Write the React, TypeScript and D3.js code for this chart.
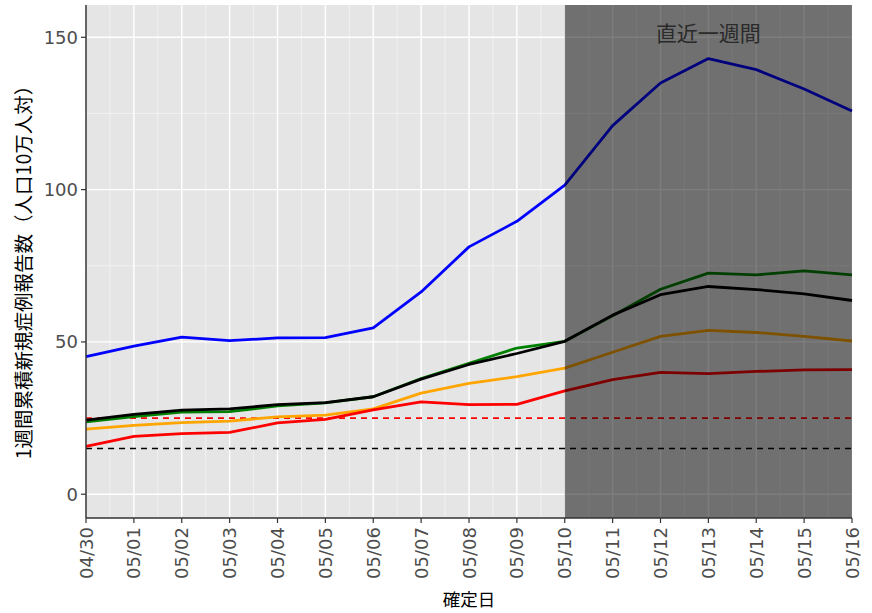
import React from "react";
import * as d3 from "d3";

// Reporting dates (x axis)
const dates = [
  "04/30", "05/01", "05/02", "05/03", "05/04", "05/05", "05/06", "05/07", "05/08",
  "05/09", "05/10", "05/11", "05/12", "05/13", "05/14", "05/15", "05/16",
];

// Weekly cumulative new cases per 100k population, one array per region
const blueSeries = [45.2, 48.6, 51.6, 50.4, 51.3, 51.4, 54.6, 66.4, 81.2, 89.6, 101.5, 121.0, 135.0, 143.0, 139.4, 133.0, 125.8];
const greenSeries = [23.8, 25.5, 27.0, 27.1, 29.0, 30.0, 32.0, 38.0, 43.0, 48.0, 50.2, 58.6, 67.3, 72.6, 72.0, 73.3, 72.0];
const orangeSeries = [21.4, 22.6, 23.5, 24.0, 25.4, 26.0, 28.0, 33.2, 36.4, 38.6, 41.4, 46.6, 51.8, 53.8, 53.1, 51.8, 50.3];
const redSeries = [15.7, 19.0, 19.9, 20.3, 23.4, 24.6, 27.7, 30.3, 29.4, 29.5, 33.9, 37.6, 40.0, 39.6, 40.3, 40.8, 40.9];
const blackSeries = [24.3, 26.2, 27.6, 28.0, 29.4, 30.1, 32.0, 37.8, 42.6, 46.2, 50.2, 58.8, 65.5, 68.2, 67.2, 65.8, 63.6];

const seriesList = [
  { name: "blue", color: "#0000ff", values: blueSeries },
  { name: "orange", color: "#ffa500", values: orangeSeries },
  { name: "red", color: "#ff0000", values: redSeries },
  { name: "green", color: "#008000", values: greenSeries },
  { name: "black", color: "#000000", values: blackSeries },
];

// Reference thresholds (dashed)
const thresholds = [
  { value: 25, color: "#ff0000" },
  { value: 15, color: "#000000" },
];

const yTicks = [0, 50, 100, 150];
const yMinorTicks = [25, 75, 125];
const recentStart = "05/10";
const recentLabel = "直近一週間";
const yTitle = "1週間累積新規症例報告数（人口10万人対）";
const xTitle = "確定日";

const W = 872;
const H = 613;
const margin = { left: 86, right: 20, top: 5, bottom: 95 };
const FONT = "'Noto Sans CJK JP', 'Noto Sans', sans-serif";
const TICK_FONT = "'DejaVu Sans', sans-serif";

export default function App() {
  const x0 = margin.left;
  const x1 = W - margin.right;
  const y0 = margin.top;
  const y1 = H - margin.bottom;

  const x = d3.scalePoint<string>().domain(dates).range([x0, x1]);
  const y = d3.scaleLinear().domain([-7.8, 160.6]).range([y1, y0]);

  const idx = dates.map((_, i) => i);
  const xm = d3.scaleLinear().domain([0, dates.length - 1]).range([x0, x1]);
  const minorX = idx.slice(0, -1).map((i) => xm(i + 0.5));

  const line = d3
    .line<number>()
    .x((_, i) => x(dates[i]) as number)
    .y((v) => y(v));

  const rx = x(recentStart) as number;
  const labelX = (rx + x1) / 2;

  return (
    <svg
      width={W}
      height={H}
      style={{ position: "absolute", left: 0, top: 0, background: "#fff" }}
      fontFamily={FONT}
    >
      {/* panel background */}
      <rect x={x0} y={y0} width={x1 - x0} height={y1 - y0} fill="#e5e5e5" />

      {/* minor grid */}
      {yMinorTicks.map((t) => (
        <line key={"ym" + t} x1={x0} x2={x1} y1={y(t)} y2={y(t)} stroke="#f4f4f4" strokeWidth={0.8} />
      ))}
      {minorX.map((px, i) => (
        <line key={"xm" + i} x1={px} x2={px} y1={y0} y2={y1} stroke="#f4f4f4" strokeWidth={0.8} />
      ))}
      {/* major grid */}
      {yTicks.map((t) => (
        <line key={"yg" + t} x1={x0} x2={x1} y1={y(t)} y2={y(t)} stroke="#ffffff" strokeWidth={1.4} />
      ))}
      {dates.map((d) => (
        <line key={"xg" + d} x1={x(d)} x2={x(d)} y1={y0} y2={y1} stroke="#ffffff" strokeWidth={1.4} />
      ))}

      {/* threshold lines */}
      {thresholds.map((t) => (
        <line
          key={"th" + t.value}
          x1={x0}
          x2={x1}
          y1={y(t.value)}
          y2={y(t.value)}
          stroke={t.color}
          strokeWidth={1.6}
          strokeDasharray="6,5"
        />
      ))}

      {/* series */}
      {seriesList.map((s) => (
        <path
          key={s.name}
          d={line(s.values) || ""}
          fill="none"
          stroke={s.color}
          strokeWidth={2.8}
          strokeLinejoin="round"
        />
      ))}

      {/* shading for the latest week */}
      <rect x={rx} y={y0} width={x1 - rx} height={y1 - y0} fill="#000" fillOpacity={0.51} />
      <text
        x={labelX}
        y={y0 + 27}
        textAnchor="middle"
        dominantBaseline="central"
        fontSize={21}
        fill="#2a2a2a"
      >
        {recentLabel}
      </text>

      {/* axes */}
      <line x1={x0} x2={x0} y1={y0} y2={y1} stroke="#333" strokeWidth={1.5} />
      <line x1={x0} x2={x1} y1={y1} y2={y1} stroke="#333" strokeWidth={1.5} />
      {yTicks.map((t) => (
        <g key={"yt" + t}>
          <line x1={x0 - 5} x2={x0} y1={y(t)} y2={y(t)} stroke="#333" strokeWidth={1.2} />
          <text
            x={x0 - 8}
            y={y(t)}
            textAnchor="end"
            dominantBaseline="central"
            fontSize={18}
            fontFamily={TICK_FONT}
            fill="#4d4d4d"
          >
            {t}
          </text>
        </g>
      ))}
      {dates.map((d) => (
        <g key={"xt" + d}>
          <line x1={x(d)} x2={x(d)} y1={y1} y2={y1 + 5} stroke="#333" strokeWidth={1.2} />
          <text
            transform={`translate(${x(d)},${y1 + 9}) rotate(-90)`}
            textAnchor="end"
            dominantBaseline="central"
            fontSize={18}
            fontFamily={TICK_FONT}
            fill="#4d4d4d"
          >
            {d}
          </text>
        </g>
      ))}

      {/* axis titles */}
      <text
        x={(x0 + x1) / 2}
        y={H - 15}
        textAnchor="middle"
        dominantBaseline="central"
        fontSize={17.5}
        fill="#000"
      >
        {xTitle}
      </text>
      <text
        transform={`translate(22,${(y0 + y1) / 2 + 6}) rotate(-90)`}
        textAnchor="middle"
        dominantBaseline="central"
        fontSize={19.5}
        fill="#000"
      >
        {yTitle}
      </text>
    </svg>
  );
}
